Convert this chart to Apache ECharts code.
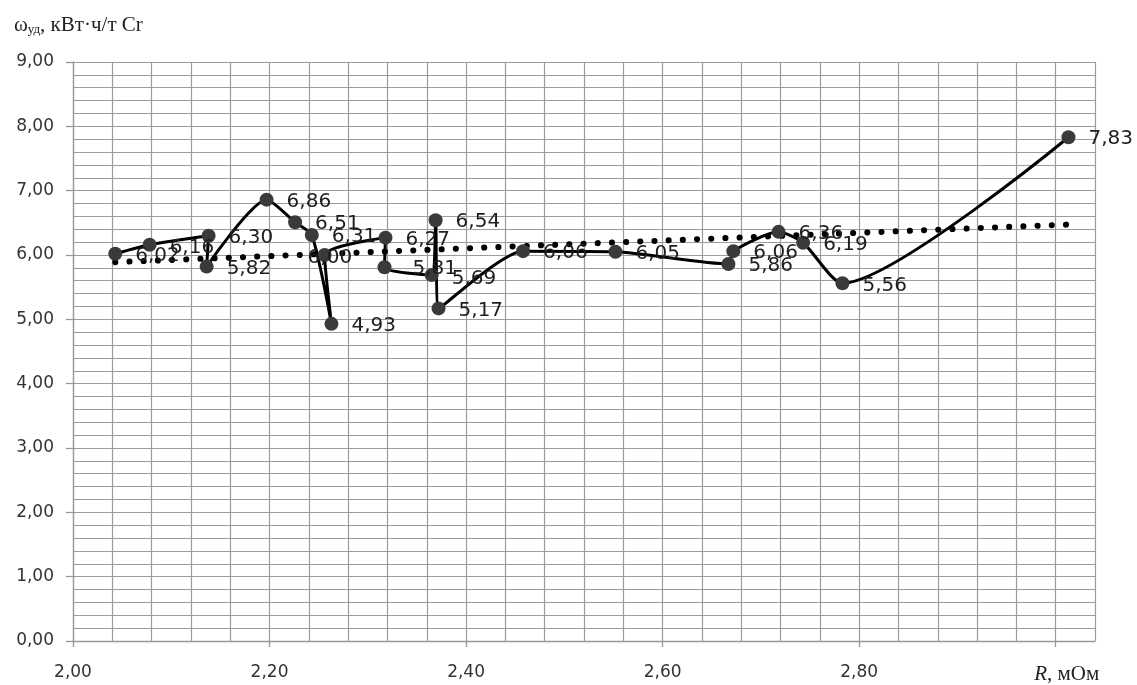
<!DOCTYPE html>
<html>
<head>
<meta charset="utf-8">
<script src="https://cdn.jsdelivr.net/npm/echarts@6/dist/echarts.min.js"></script>
<style>
html,body{margin:0;padding:0;background:#fff;}
#chart{width:1137px;height:685px;}
</style>
</head>
<body>
<div id="chart"></div>
<script>
// Data (R, мОм ; ω_уд, кВт·ч/т Cr), in drawing order
const rValues = [2.043, 2.078, 2.138, 2.136, 2.197, 2.226, 2.243, 2.263, 2.256, 2.318, 2.317,
                 2.365, 2.369, 2.372, 2.458, 2.552, 2.667, 2.672, 2.718, 2.743, 2.783, 3.013];
const wValues = [6.02, 6.16, 6.30, 5.82, 6.86, 6.51, 6.31, 4.93, 6.00, 6.27, 5.81,
                 5.69, 6.54, 5.17, 6.06, 6.05, 5.86, 6.06, 6.36, 6.19, 5.56, 7.83];
const xTickLabels = [2.0, 2.2, 2.4, 2.6, 2.8, 3.0];
const yTickLabels = [0, 1, 2, 3, 4, 5, 6, 7, 8, 9];

// linear trend (least squares) computed from the data
const n = rValues.length;
const mx = rValues.reduce((a, b) => a + b, 0) / n;
const my = wValues.reduce((a, b) => a + b, 0) / n;
let sxy = 0, sxx = 0;
for (let i = 0; i < n; i++) { sxy += (rValues[i] - mx) * (wValues[i] - my); sxx += (rValues[i] - mx) ** 2; }
const slope = sxy / sxx, icpt = my - slope * mx;
const xMinD = Math.min(...rValues), xMaxD = Math.max(...rValues);
const trendData = [[xMinD, icpt + slope * xMinD], [xMaxD, icpt + slope * xMaxD]];

const labelOffsets = { 8: [-37, 3], 10: [8, 2], 11: [0, 4], 1: [0, 3] };
const mainData = rValues.map((x, i) => {
  const d = { value: [x, wValues[i]] };
  if (labelOffsets[i]) d.label = { offset: labelOffsets[i] };
  return d;
});

const fmt = v => Number(v).toFixed(2).replace('.', ',');
const gridColor = '#9c9c9c';
const axisColor = '#999';
const xMin = 2.0, xMax = 3.04;

const chart = echarts.init(document.getElementById('chart'), null, { renderer: 'canvas' });
chart.setOption({
  animation: false,
  backgroundColor: '#fff',
  title: {
    left: 9, top: 9,
    text: '{w|ω}{s|уд}{w|, кВт·ч/т Cr}',
    textStyle: {
      rich: {
        w: { fontFamily: 'Liberation Serif', fontSize: 21, fontWeight: 'normal', color: '#222' },
        s: { fontFamily: 'Liberation Serif', fontSize: 13, fontWeight: 'normal', color: '#222', verticalAlign: 'bottom', padding: [9, 0, 0, 0] }
      }
    }
  },
  grid: { left: 73, right: 42, top: 62, bottom: 42, containLabel: false },
  xAxis: [
    { // labelled axis
      type: 'value', min: xMin, max: xMax, interval: 0.2, position: 'bottom',
      axisLine: { show: true, onZero: false, lineStyle: { color: axisColor, width: 1.3 } },
      axisTick: { show: true, customValues: xTickLabels, length: 6, lineStyle: { color: axisColor, width: 1.3 } },
      axisLabel: {
        customValues: xTickLabels, margin: 23,
        fontFamily: 'DejaVu Sans', fontSize: 17, color: '#333',
        formatter: v => Math.abs(v - 3) < 1e-6 ? '{r|R}{m|, мОм}' : fmt(v),
        rich: {
          r: { fontFamily: 'Liberation Serif', fontStyle: 'italic', fontSize: 21, color: '#222', padding: [0, 0, 0, 22] },
          m: { fontFamily: 'Liberation Serif', fontSize: 21, color: '#222' }
        }
      },
      splitLine: { show: false }, z: 3
    },
    { // vertical minor grid every 0.04
      type: 'value', min: xMin, max: xMax, interval: 0.04,
      axisLine: { show: false }, axisTick: { show: false }, axisLabel: { show: false },
      splitLine: { show: true, lineStyle: { color: gridColor, width: 1.2 } }, z: 0
    }
  ],
  yAxis: [
    {
      type: 'value', min: 0, max: 9, interval: 0.2, position: 'left',
      axisLine: { show: true, onZero: false, lineStyle: { color: axisColor, width: 1.3 } },
      axisTick: { show: true, customValues: yTickLabels, length: 7, lineStyle: { color: axisColor, width: 1.3 } },
      axisLabel: {
        customValues: yTickLabels, margin: 19,
        fontFamily: 'DejaVu Sans', fontSize: 17, color: '#333',
        formatter: v => fmt(v)
      },
      splitLine: { show: false }, z: 3
    },
    { // horizontal minor grid every 0.2
      type: 'value', min: 0, max: 9, interval: 0.2,
      axisLine: { show: false }, axisTick: { show: false }, axisLabel: { show: false },
      splitLine: { show: true, lineStyle: { color: gridColor, width: 1.2 } }, z: 0
    }
  ],
  series: [
    {
      type: 'line', name: 'trend', data: trendData, symbol: 'none', silent: true,
      xAxisIndex: 0, yAxisIndex: 0,
      lineStyle: { color: '#000', width: 6, type: [0.1, 14.1], cap: 'round' },
      z: 2
    },
    {
      type: 'line', name: 'w', data: mainData, smooth: 0.22,
      xAxisIndex: 0, yAxisIndex: 0,
      symbol: 'circle', symbolSize: 14,
      itemStyle: { color: '#3a3a3a' },
      lineStyle: { color: '#000', width: 3 },
      label: {
        show: true, position: 'right', distance: 13,
        fontFamily: 'DejaVu Sans', fontSize: 20, color: '#1e1e1e',
        offset: [0, 2],
        formatter: p => fmt(p.value[1])
      },
      z: 3
    }
  ]
});
</script>
</body>
</html>
